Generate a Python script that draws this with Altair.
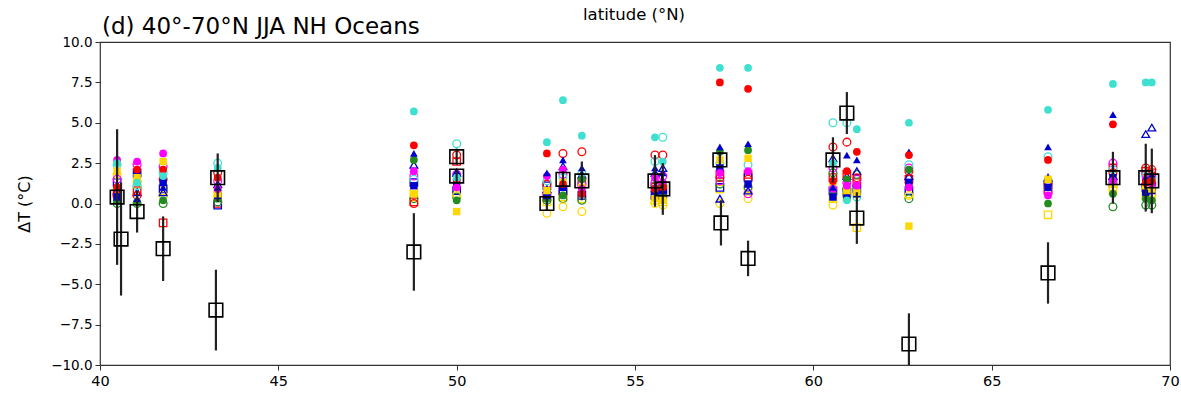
import altair as alt
import pandas as pd

# Latitudes of model clusters
LAT = [40.48, 41.04, 41.77, 43.3, 48.8, 50.0, 52.53, 52.98, 53.51, 55.56, 55.78,
       57.38, 58.17, 60.55, 60.94, 61.22, 62.68, 66.58, 68.4, 69.32, 69.49]

# Model series (values in degC at each latitude above)
M_TURQ_F = [2.5, 1.3, 1.7, 2.2, 5.7, 1.6, 3.8, 6.4, 4.2, 4.1, 2.6, 8.4, 8.4, 2.5, 0.2, 4.6, 5.0, 5.8, 7.4, 7.5, 7.5]
M_TURQ_O = [2.4, 1.1, 1.9, 2.5, 1.5, 3.7, 1.4, 1.6, 1.9, 2.6, 4.1, 2.5, 2.4, 5.0, 5.0, 0.4, 2.4, 2.9, 2.1, 1.7, 1.5]
M_RED_F = [1.0, 2.1, 2.1, 1.6, 3.6, 1.5, 3.1, 1.2, 0.6, 0.9, 1.0, 7.5, 7.1, 1.4, 2.0, 3.2, 3.0, 2.7, 4.9, 1.3, 1.4]
M_RED_O = [0.5, 0.5, 1.5, 1.9, 0.0, 3.0, 1.2, 3.1, 3.2, 3.0, 3.0, 1.6, 1.5, 3.5, 3.8, 1.6, 2.0, 1.2, 1.9, 2.2, 2.1]
M_BLUE_TRI_F = [1.2, 0.3, 1.0, 1.0, 3.1, 2.0, 1.9, 2.7, 2.2, 2.2, 1.9, 3.5, 3.7, 1.0, 3.0, 2.7, 3.2, 3.5, 5.5, 1.6, 1.8]
M_BLUE_TRI_O = [0.8, 0.7, 0.7, 1.2, 2.4, 1.9, 0.9, 2.3, 1.8, 1.9, 2.2, 0.3, 0.8, 2.8, 1.7, 2.0, 1.7, 1.6, 1.7, 4.3, 4.7]
M_MAG_F = [2.7, 2.6, 3.1, 0.9, 2.0, 1.0, 1.7, 2.1, 0.9, 1.6, 1.3, 1.9, 2.0, 0.9, 1.1, 1.1, 1.0, 0.5, 1.4, 1.5, 1.2]
M_MAG_O = [1.5, 2.4, 2.3, 1.4, 1.7, 1.8, 0.6, 1.8, 1.2, 1.3, 1.7, 1.4, 0.6, 2.2, 1.3, 1.5, 2.2, 0.7, 2.5, 1.8, 1.6]
M_GOLD_SQ_F = [2.0, 1.6, 2.6, 0.6, 0.6, -0.5, 0.8, 1.3, 1.0, 0.3, 0.2, 2.7, 2.8, 1.2, 0.8, 0.7, -1.4, 1.5, 1.2, 1.1, 0.9]
M_GOLD_O = [1.8, 1.4, 0.5, 0.4, 0.8, 0.5, -0.6, -0.2, -0.5, 0.0, -0.1, 0.0, 0.3, -0.1, 0.6, 0.6, 0.5, 0.9, 1.0, 0.9, 0.6]
M_GREEN_F = [0.2, 0.1, 0.2, 0.3, 2.7, 0.2, 0.3, 0.5, 1.5, 0.8, 0.5, 3.2, 3.3, 0.6, 1.5, 0.8, 2.1, 0.0, 0.6, 0.3, 0.2]
M_GREEN_O = [0.0, 0.0, 0.0, 0.1, 0.3, 0.4, 0.2, 0.3, 0.2, 1.1, 1.1, 1.2, 1.0, 1.9, 0.9, 1.8, 0.3, 1.4, -0.2, -0.1, -0.1]
M_BLUE_SQ_F = [0.4, 1.8, 1.3, 0.5, 1.1, 1.3, 0.5, 1.0, 0.7, 0.7, 0.8, 2.2, 1.2, 0.4, 0.5, 0.6, 1.3, 1.0, 1.6, 0.7, 0.8]
M_BLUE_SQ_O = [1.3, 1.9, 0.9, -0.1, 1.3, 0.8, 1.1, 0.8, 0.5, 0.5, 0.6, 1.0, 1.6, 0.8, 0.7, 0.9, 0.8, 1.1, 1.3, 1.0, 1.1]
M_RED_SQ_O = [0.6, 0.8, -1.2, 0.0, 0.1, 2.6, 0.4, 0.7, 1.3, 1.0, 0.9, 1.8, 1.8, 1.6, 1.8, 1.3, 1.5, 0.8, 2.2, 2.0, 1.9]
M_GOLD_SQ_O = [0.9, 1.2, 0.8, 0.7, 0.4, 0.6, 0.1, 0.4, 0.3, 0.2, 0.1, 0.9, 0.9, 0.3, 0.4, -1.5, 0.6, -0.7, 0.8, 0.5, 0.4]

# Observations with error bars
OBS_LAT = [40.48, 40.59, 41.04, 41.77, 43.25, 43.3, 48.8, 50.0, 50.0, 52.53, 52.98, 53.51, 55.56,
           55.78, 57.38, 57.41, 58.17, 60.55, 60.94, 61.22, 62.68, 66.58, 68.4, 69.32, 69.49]
OBS = [0.4, -2.2, -0.5, -2.8, -6.6, 1.6, -3.0, 2.9, 1.7, 0.0, 1.5, 1.4, 1.4,
       0.9, 2.7, -1.2, -3.4, 2.7, 5.6, -0.9, -8.7, -4.3, 1.6, 1.6, 1.4]
ERR = [4.2, 3.5, 1.3, 2.0, 2.5, 1.5, 2.4, 0.5, 0.4, 0.4, 0.5, 1.2, 1.6,
       1.6, 0.5, 1.4, 1.1, 1.4, 1.3, 1.6, 1.9, 1.9, 1.6, 2.1, 2.0]

TITLE = "(d) 40°-70°N JJA NH Oceans"
TOP_LABEL = "latitude (°N)"

TURQ, RED, BLUE, MAG, GOLD, GREEN = "#40E0D0", "#FF0000", "#0000CD", "#FF00FF", "#FFD700", "#228B22"

models = [
    (M_GOLD_SQ_O, GOLD, "square", False),
    (M_RED_SQ_O, RED, "square", False),
    (M_BLUE_SQ_O, BLUE, "square", False),
    (M_GREEN_O, GREEN, "circle", False),
    (M_GOLD_O, GOLD, "circle", False),
    (M_MAG_O, MAG, "circle", False),
    (M_BLUE_TRI_O, BLUE, "triangle-up", False),
    (M_RED_O, RED, "circle", False),
    (M_TURQ_O, TURQ, "circle", False),
    (M_GREEN_F, GREEN, "circle", True),
    (M_BLUE_SQ_F, BLUE, "square", True),
    (M_GOLD_SQ_F, GOLD, "square", True),
    (M_MAG_F, MAG, "circle", True),
    (M_BLUE_TRI_F, BLUE, "triangle-up", True),
    (M_RED_F, RED, "circle", True),
    (M_TURQ_F, TURQ, "circle", True),
]

xs = alt.Scale(domain=[40, 70], nice=False, zero=False)
ys = alt.Scale(domain=[-10, 10], nice=False, zero=False)
xaxis = alt.Axis(values=[40, 45, 50, 55, 60, 65, 70], title=None, format="d",
                 labelFlush=False, labelFontSize=14.5, labelPadding=4)
yaxis = alt.Axis(values=[-10, -7.5, -5, -2.5, 0, 2.5, 5, 7.5, 10], title="ΔT (°C)",
                 labelFontSize=13.5, labelFlush=False,
                 labelExpr="replace(format(datum.value, '.1f'), '-', '\u2212')")

layers = []
for vals, col, shape, filled in models:
    d = pd.DataFrame({"lat": LAT, "val": vals})
    layers.append(
        alt.Chart(d).mark_point(shape=shape, filled=filled, color=col, size=60 if shape != "square" else 55,
                                strokeWidth=1.3, opacity=1)
        .encode(x=alt.X("lat:Q", scale=xs, axis=xaxis), y=alt.Y("val:Q", scale=ys, axis=yaxis))
    )

obs = pd.DataFrame({"lat": OBS_LAT, "obs": OBS,
                    "lo": [o - e for o, e in zip(OBS, ERR)], "hi": [o + e for o, e in zip(OBS, ERR)]})
err = alt.Chart(obs).mark_rule(color="#222222", strokeWidth=2.2, clip=True).encode(
    x=alt.X("lat:Q", scale=xs, axis=xaxis), y=alt.Y("lo:Q", scale=ys, axis=yaxis), y2="hi:Q")
obsm = alt.Chart(obs).mark_point(shape="square", filled=False, color="black", size=185,
                                 strokeWidth=1.6, opacity=1).encode(
    x=alt.X("lat:Q", scale=xs, axis=xaxis), y=alt.Y("obs:Q", scale=ys, axis=yaxis))

toplab = alt.Chart(pd.DataFrame({"t": [TOP_LABEL]})).mark_text(
    fontSize=16.5, font="DejaVu Sans", color="black").encode(
    x=alt.value(534), y=alt.value(-27), text="t:N")

titlelab = alt.Chart(pd.DataFrame({"t": [TITLE]})).mark_text(
    fontSize=23, font="DejaVu Sans", color="black", align="left", baseline="alphabetic").encode(
    x=alt.value(2), y=alt.value(-8), text="t:N")

chart = alt.layer(*layers, err, obsm, toplab, titlelab).properties(
    width=1070, height=323,
    autosize=alt.AutoSizeParams(type="none"),
    padding={"left": 100, "top": 42, "right": 11, "bottom": 30},
).configure_view(stroke="#333333", strokeWidth=1.2).configure_axis(
    domain=False, grid=False, tickColor="#333333", tickSize=5,
    labelFont="DejaVu Sans", labelColor="black", titleFont="DejaVu Sans", titleFontSize=16,
    titleFontWeight="normal", titleColor="black", labelPadding=3
).configure_axisY(titlePadding=18)

chart.save("out.html", embed_options={"renderer": "svg", "actions": False})
